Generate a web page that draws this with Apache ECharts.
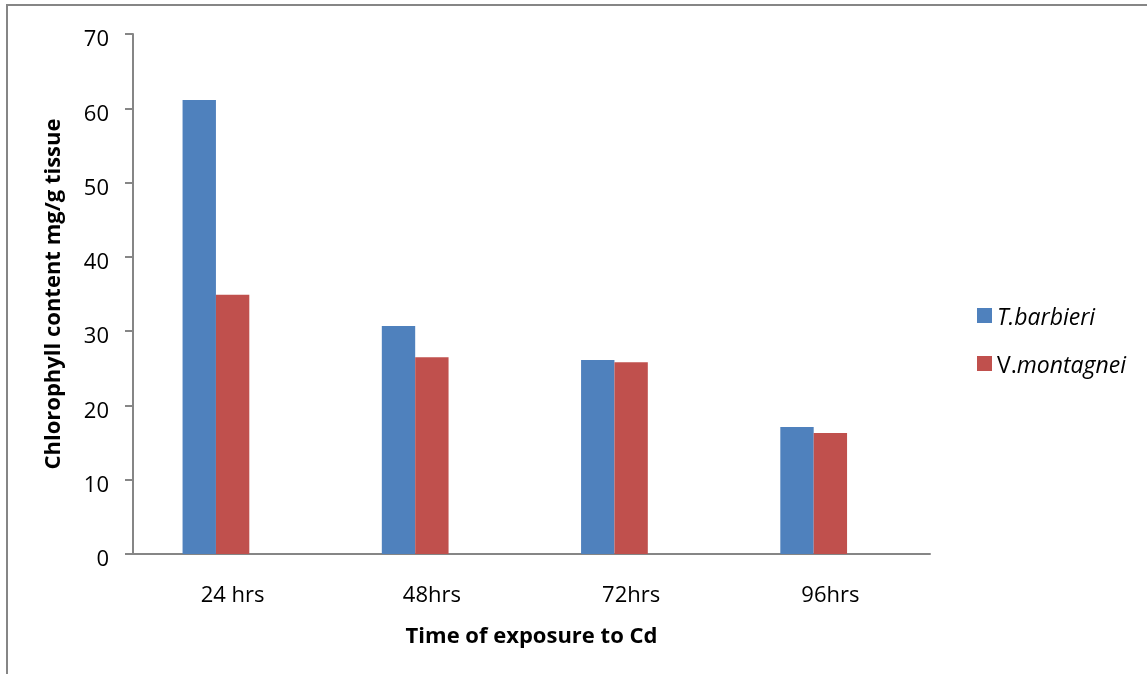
<!DOCTYPE html>
<html>
<head>
<meta charset="utf-8">
<script src="https://cdn.jsdelivr.net/npm/echarts@6/dist/echarts.min.js"></script>
<style>
  html, body { margin: 0; padding: 0; background: #ffffff; }
  #chart { width: 1147px; height: 674px; }
</style>
</head>
<body>
<div id="chart"></div>
<script>
// Exposure times to cadmium
const categories = ['24 hrs', '48hrs', '72hrs', '96hrs'];
// Chlorophyll content (mg/g tissue) per species
const barbieriValues = [61.1, 30.7, 26.1, 17.1];
const montagneiValues = [34.9, 26.5, 25.8, 16.3];
// Empty third slot keeps each pair of bars left of the category centre
const emptySlot = [null, null, null, null];
const yTicks = { min: 0, max: 70, interval: 10 };

const font = '"Open Sans", "DejaVu Sans", sans-serif';
const axisGrey = '#868686';

const chart = echarts.init(document.getElementById('chart'), null, { renderer: 'canvas' });

chart.setOption({
  backgroundColor: '#ffffff',
  animation: false,
  textStyle: { fontFamily: font, color: '#000000' },
  graphic: [{
    type: 'rect',
    shape: { x: 7, y: 5, width: 1300, height: 800 },
    style: { fill: 'none', stroke: axisGrey, lineWidth: 2 },
    silent: true
  }],
  grid: { left: 133, right: 217, top: 34, bottom: 120, containLabel: false },
  legend: {
    orient: 'vertical',
    left: 972,
    top: 302,
    itemWidth: 15,
    itemHeight: 15,
    itemGap: 25,
    icon: 'rect',
    data: ['T.barbieri', 'V.montagnei'],
    formatter: function (name) {
      if (name === 'V.montagnei') return '{n|V.}{i|montagnei}';
      return '{i|T.barbieri}';
    },
    textStyle: {
      fontFamily: font,
      fontSize: 23,
      color: '#000000',
      padding: [6, 0, 0, 0],
      rich: {
        n: { fontFamily: font, fontSize: 23, color: '#000000' },
        i: { fontFamily: font, fontSize: 23, fontStyle: 'italic', color: '#000000' }
      }
    }
  },
  xAxis: {
    type: 'category',
    data: categories,
    name: 'Time of exposure to Cd',
    nameLocation: 'middle',
    nameGap: 72,
    nameTextStyle: { fontFamily: font, fontSize: 22, fontWeight: 'bold', color: '#000000' },
    axisLine: { show: true, lineStyle: { color: axisGrey, width: 2 } },
    axisTick: { show: false },
    axisLabel: { fontFamily: font, fontSize: 22, color: '#000000', margin: 31 },
    splitLine: { show: false }
  },
  yAxis: {
    type: 'value',
    min: yTicks.min,
    max: yTicks.max,
    interval: yTicks.interval,
    name: 'Chlorophyll content mg/g tissue',
    nameLocation: 'middle',
    nameGap: 68,
    nameTextStyle: { fontFamily: font, fontSize: 22, fontWeight: 'bold', color: '#000000' },
    axisLine: { show: true, lineStyle: { color: axisGrey, width: 2 } },
    axisTick: { show: true, inside: false, length: 8, lineStyle: { color: axisGrey, width: 2 } },
    axisLabel: {
      fontFamily: font, fontSize: 22, color: '#000000', margin: 24,
      formatter: function (v) { return '{t|' + v + '}'; },
      rich: { t: { fontFamily: font, fontSize: 22, color: '#000000', padding: [12, 0, 0, 0] } }
    },
    splitLine: { show: false }
  },
  series: [
    {
      name: 'T.barbieri',
      type: 'bar',
      data: barbieriValues,
      barWidth: '16.75%',
      barGap: '0%',
      itemStyle: { color: '#4F81BD' }
    },
    {
      name: 'V.montagnei',
      type: 'bar',
      data: montagneiValues,
      barWidth: '16.75%',
      barGap: '0%',
      itemStyle: { color: '#C0504D' }
    },
    {
      name: 'spacer',
      type: 'bar',
      data: emptySlot,
      barWidth: '16.75%',
      barGap: '0%',
      itemStyle: { color: 'transparent' }
    }
  ]
});
</script>
</body>
</html>
